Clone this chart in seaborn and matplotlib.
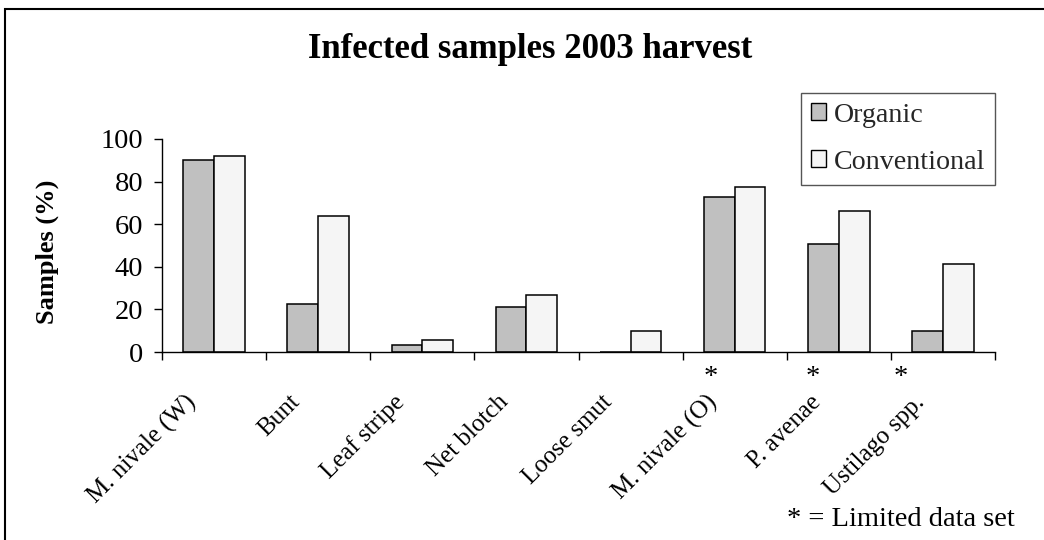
import matplotlib
matplotlib.use('Agg')
import matplotlib.pyplot as plt
import matplotlib.patches as mpatches
import matplotlib.transforms as mtransforms
import seaborn as sns
import pandas as pd

# data
categories = ['M. nivale (W)', 'Bunt', 'Leaf stripe', 'Net blotch',
              'Loose smut', 'M. nivale (O)', 'P. avenae', 'Ustilago spp.']
organic = [90, 22.5, 3.3, 21, 0, 73, 50.5, 10]
conventional = [92, 64, 5.6, 26.7, 10, 77.3, 66, 41.3]
series = ['Organic', 'Conventional']
colors = ['#c0c0c0', '#f5f5f5']

df = pd.DataFrame({
    'category': categories * 2,
    'value': organic + conventional,
    'series': ['Organic'] * len(categories) + ['Conventional'] * len(categories),
})

sns.set_theme(style='white')
plt.rcParams['font.family'] = ['Liberation Serif', 'DejaVu Serif']
FS = 20.5

fig = plt.figure(figsize=(10.44, 5.4), dpi=100)
ax = fig.add_axes([162 / 1044, 1 - 352 / 540, 833 / 1044, 213 / 540])

sns.barplot(data=df, x='category', y='value', hue='series', hue_order=series,
            palette=colors, width=0.59, gap=0,
            edgecolor='black', linewidth=1.1, saturation=1, ax=ax)

ax.set_ylim(0, 100)
ax.set_xlim(-0.5, len(categories) - 0.5)
ax.set_yticks([0, 20, 40, 60, 80, 100])
ax.set_xticks([i - 0.5 for i in range(len(categories) + 1)], minor=True)
ax.set_xticks(range(len(categories)))
ax.set_xticklabels(categories, rotation=45, ha='right', va='top',
                   rotation_mode='anchor', fontsize=18, color='black')
ax.tick_params(axis='x', which='major', length=0, pad=28)
ax.tick_params(axis='x', which='minor', length=6, width=1, color='black',
               direction='out', bottom=True)
ax.tick_params(axis='y', length=6, width=1, color='black', direction='out',
               left=True, labelsize=FS, labelcolor='black', pad=7.5)
# move the label ends a little left of each category centre
offset = mtransforms.ScaledTranslation(-21 / 72, 0, fig.dpi_scale_trans)
for lab in ax.get_xticklabels():
    lab.set_transform(lab.get_transform() + offset)

for s in ['top', 'right']:
    ax.spines[s].set_visible(False)
for s in ['left', 'bottom']:
    ax.spines[s].set_color('black')
    ax.spines[s].set_linewidth(1)

ax.set_xlabel('')
ax.set_ylabel('Samples (%)', fontsize=19, fontweight='bold', color='black')
ax.yaxis.set_label_coords((59 - 162) / 833, 0.47)

fig.text(530 / 1044, 1 - 50 / 540, 'Infected samples 2003 harvest',
         fontsize=25, fontweight='bold', ha='center', va='center',
         color='black')

# asterisks marking the limited data sets
trans = mtransforms.blended_transform_factory(ax.transData, fig.transFigure)
for xpos in [4.77, 5.75, 6.59]:
    ax.text(xpos, 1 - 378 / 540, '*', transform=trans, ha='center',
            va='center', fontsize=FS, color='black')
fig.text(1015 / 1044, 1 - 520 / 540, '* = Limited data set', ha='right',
         va='center', fontsize=FS, color='black')

handles = [mpatches.Patch(facecolor=c, edgecolor='black', linewidth=1)
           for c in colors]
ax.legend(handles, series, loc='upper left',
          bbox_to_anchor=(801 / 1044, 1 - 93 / 540),
          bbox_transform=fig.transFigure, fontsize=20.2, frameon=True,
          fancybox=False, edgecolor='#555555', framealpha=1,
          handlelength=0.53, handleheight=0.56, handletextpad=0.3,
          labelspacing=0.78, borderpad=0.35, borderaxespad=0)

fig.patches.append(mpatches.Rectangle((5 / 1044, -0.05), 1.1, 1 - 9 / 540 + 0.05,
                                      transform=fig.transFigure, fill=False,
                                      edgecolor='black', linewidth=1.5))

fig.savefig('out.png', dpi=100)
